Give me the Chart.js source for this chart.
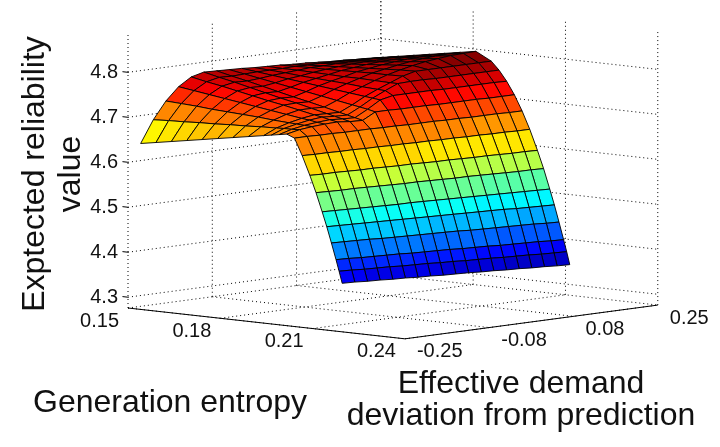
<!DOCTYPE html>
<html>
<head>
<meta charset="utf-8">
<script src="https://cdn.jsdelivr.net/npm/chart.js@4.4.1/dist/chart.umd.min.js"></script>
<style>
  html, body { margin: 0; padding: 0; background: #fff; }
</style>
</head>
<body>
<canvas id="surfaceChart" width="720" height="447"></canvas>
<script>
// grid of the surface
const entropy = [0.150, 0.155, 0.160, 0.165, 0.170, 0.175, 0.180, 0.185, 0.190, 0.1925, 0.195,
                 0.1975, 0.200, 0.2025, 0.205, 0.207, 0.209, 0.2105, 0.212, 0.2135, 0.2145, 0.2155];
const demand = [-0.225, -0.200, -0.175, -0.150, -0.125, -0.100, -0.075, -0.050, -0.025, 0.000,
                0.025, 0.050, 0.075, 0.100, 0.125, 0.150, 0.175, 0.200, 0.225];

// expected reliability, one row per entropy value, one column per demand value
const reliability = [
  [4.638, 4.687, 4.725, 4.753, 4.771, 4.778, 4.777, 4.776, 4.775, 4.773, 4.772, 4.771, 4.769, 4.768, 4.766, 4.764, 4.763, 4.761, 4.760],
  [4.644, 4.689, 4.723, 4.748, 4.764, 4.770, 4.769, 4.770, 4.771, 4.771, 4.771, 4.772, 4.771, 4.771, 4.770, 4.769, 4.768, 4.767, 4.766],
  [4.650, 4.690, 4.721, 4.743, 4.758, 4.763, 4.762, 4.764, 4.767, 4.769, 4.771, 4.773, 4.773, 4.774, 4.774, 4.774, 4.774, 4.773, 4.772],
  [4.656, 4.692, 4.718, 4.738, 4.751, 4.755, 4.754, 4.758, 4.763, 4.766, 4.770, 4.773, 4.775, 4.777, 4.778, 4.778, 4.779, 4.778, 4.778],
  [4.662, 4.693, 4.716, 4.733, 4.744, 4.747, 4.746, 4.752, 4.759, 4.764, 4.769, 4.774, 4.777, 4.780, 4.782, 4.783, 4.784, 4.784, 4.784],
  [4.668, 4.695, 4.714, 4.728, 4.737, 4.739, 4.738, 4.746, 4.755, 4.762, 4.768, 4.775, 4.779, 4.783, 4.786, 4.788, 4.789, 4.790, 4.790],
  [4.674, 4.696, 4.712, 4.723, 4.731, 4.732, 4.731, 4.740, 4.751, 4.760, 4.768, 4.776, 4.781, 4.786, 4.790, 4.793, 4.795, 4.796, 4.796],
  [4.680, 4.698, 4.709, 4.718, 4.724, 4.724, 4.723, 4.734, 4.747, 4.757, 4.767, 4.776, 4.783, 4.789, 4.794, 4.797, 4.800, 4.801, 4.802],
  [4.686, 4.699, 4.707, 4.713, 4.717, 4.716, 4.715, 4.728, 4.743, 4.755, 4.766, 4.777, 4.784, 4.784, 4.784, 4.784, 4.784, 4.784, 4.784],
  [4.689, 4.700, 4.706, 4.711, 4.714, 4.712, 4.711, 4.725, 4.741, 4.754, 4.766, 4.767, 4.767, 4.766, 4.766, 4.766, 4.766, 4.766, 4.766],
  [4.692, 4.700, 4.705, 4.708, 4.710, 4.708, 4.707, 4.722, 4.739, 4.745, 4.745, 4.745, 4.745, 4.744, 4.744, 4.744, 4.744, 4.744, 4.743],
  [4.695, 4.701, 4.704, 4.706, 4.707, 4.704, 4.703, 4.718, 4.718, 4.717, 4.717, 4.717, 4.716, 4.716, 4.716, 4.716, 4.715, 4.715, 4.715],
  [4.688, 4.688, 4.687, 4.687, 4.686, 4.686, 4.686, 4.685, 4.685, 4.684, 4.684, 4.684, 4.683, 4.683, 4.682, 4.682, 4.682, 4.681, 4.681],
  [4.651, 4.650, 4.650, 4.649, 4.649, 4.648, 4.648, 4.647, 4.647, 4.646, 4.646, 4.645, 4.645, 4.644, 4.644, 4.643, 4.643, 4.642, 4.642],
  [4.609, 4.608, 4.608, 4.607, 4.606, 4.606, 4.605, 4.604, 4.604, 4.603, 4.602, 4.602, 4.601, 4.600, 4.600, 4.599, 4.598, 4.598, 4.597],
  [4.572, 4.571, 4.570, 4.570, 4.569, 4.568, 4.567, 4.566, 4.566, 4.565, 4.564, 4.563, 4.563, 4.562, 4.561, 4.560, 4.559, 4.559, 4.558],
  [4.531, 4.530, 4.529, 4.528, 4.527, 4.526, 4.525, 4.525, 4.524, 4.523, 4.522, 4.521, 4.520, 4.519, 4.518, 4.517, 4.516, 4.515, 4.514],
  [4.499, 4.498, 4.497, 4.496, 4.495, 4.494, 4.493, 4.492, 4.491, 4.490, 4.489, 4.488, 4.487, 4.486, 4.485, 4.483, 4.482, 4.481, 4.480],
  [4.464, 4.463, 4.462, 4.461, 4.459, 4.458, 4.457, 4.456, 4.455, 4.454, 4.453, 4.451, 4.450, 4.449, 4.448, 4.447, 4.446, 4.444, 4.443],
  [4.428, 4.427, 4.425, 4.424, 4.423, 4.422, 4.420, 4.419, 4.418, 4.417, 4.415, 4.414, 4.413, 4.411, 4.410, 4.409, 4.408, 4.406, 4.405],
  [4.403, 4.402, 4.400, 4.399, 4.398, 4.396, 4.395, 4.394, 4.392, 4.391, 4.389, 4.388, 4.387, 4.385, 4.384, 4.383, 4.381, 4.380, 4.379],
  [4.377, 4.376, 4.374, 4.373, 4.371, 4.370, 4.368, 4.367, 4.365, 4.364, 4.363, 4.361, 4.360, 4.358, 4.357, 4.355, 4.354, 4.352, 4.351]
];

// ticks
const entropyTicks = [0.15, 0.18, 0.21, 0.24];
const entropyTickLabels = ['0.15', '0.18', '0.21', '0.24'];
const demandTicks = [-0.25, -0.0833, 0.0833, 0.25];
const demandTickLabels = ['-0.25', '-0.08', '0.08', '0.25'];
const reliabilityTicks = [4.3, 4.4, 4.5, 4.6, 4.7, 4.8];
const reliabilityTickLabels = ['4.3', '4.4', '4.5', '4.6', '4.7', '4.8'];

// axis limits
const E_MIN = 0.15, E_MAX = 0.24;
const D_MIN = -0.25, D_MAX = 0.25;
const Z_MIN = 4.276, Z_MAX = 4.883;

// view of the box
const AZ = 42.4 * Math.PI / 180;
const EL = 7 * Math.PI / 180;
const Z_ASPECT = 0.7335;
const CANVAS_W = 720, CANVAS_H = 447;
const BOX_LEFT_PX = 128, BOX_BASE_PX = 308, BOX_SCALE_PX = 375;

const FONT = '"Liberation Sans", Arial, Helvetica, sans-serif';
const INK = '#111';

function boxCoords(e, d, z) {
    return [(e - E_MIN) / (E_MAX - E_MIN), (d - D_MIN) / (D_MAX - D_MIN), (z - Z_MIN) / (Z_MAX - Z_MIN)];
}

// orthographic projection into the chart's x/y units
function project(e, d, z) {
    const [u, v, w] = boxCoords(e, d, z);
    return {
        x: u * Math.cos(AZ) + v * Math.sin(AZ),
        y: (v * Math.cos(AZ) - u * Math.sin(AZ)) * Math.sin(EL) + w * Z_ASPECT * Math.cos(EL)
    };
}

// larger = closer to the viewer
function depth(e, d) {
    const [u, v] = boxCoords(e, d, Z_MIN);
    return u * Math.sin(AZ) - v * Math.cos(AZ);
}

// matlab style jet, 64 colours
function jet(z, cmin, cmax) {
    let idx = Math.floor((z - cmin) / (cmax - cmin) * 64);
    idx = Math.max(0, Math.min(63, idx));
    const t = (idx + 0.5) / 64;
    const ch = c => Math.round(255 * Math.max(0, Math.min(1, 1.5 - Math.abs(4 * t - c))));
    return 'rgb(' + ch(3) + ',' + ch(2) + ',' + ch(1) + ')';
}

const allZ = reliability.flat();
const cMin = Math.min(...allZ), cMax = Math.max(...allZ);

const cells = [];
for (let i = 0; i < entropy.length - 1; i++) {
    for (let j = 0; j < demand.length - 1; j++) {
        const corners = [[i, j], [i + 1, j], [i + 1, j + 1], [i, j + 1], [i, j]];
        cells.push({
            points: corners.map(([a, b]) => project(entropy[a], demand[b], reliability[a][b])),
            depth: depth((entropy[i] + entropy[i + 1]) / 2, (demand[j] + demand[j + 1]) / 2),
            color: jet(reliability[i][j], cMin, cMax)
        });
    }
}
// nearest cell gets the lowest order, so it is painted last
cells.sort((a, b) => b.depth - a.depth);

const datasets = cells.map((c, k) => ({
    data: c.points,
    order: k,
    backgroundColor: c.color,
    borderColor: '#000',
    borderWidth: 0.9,
    pointRadius: 0,
    tension: 0,
    fill: false
}));

function toPixel(chart, p) {
    return [chart.scales.x.getPixelForValue(p.x), chart.scales.y.getPixelForValue(p.y)];
}

function segment(chart, a, b) {
    const p = toPixel(chart, project(...a));
    const q = toPixel(chart, project(...b));
    chart.ctx.beginPath();
    chart.ctx.moveTo(p[0], p[1]);
    chart.ctx.lineTo(q[0], q[1]);
    chart.ctx.stroke();
}

// fill every cell just before its outline is drawn
const cellFill = {
    id: 'cellFill',
    beforeDatasetDraw(chart, args) {
        const pts = args.meta.data;
        const ctx = chart.ctx;
        ctx.save();
        ctx.beginPath();
        pts.forEach((p, k) => k ? ctx.lineTo(p.x, p.y) : ctx.moveTo(p.x, p.y));
        ctx.closePath();
        ctx.fillStyle = chart.data.datasets[args.index].backgroundColor;
        ctx.fill();
        ctx.restore();
    }
};

// dotted grid on the two back walls and the floor
const boxGrid = {
    id: 'boxGrid',
    beforeDatasetsDraw(chart) {
        const ctx = chart.ctx;
        ctx.save();
        ctx.strokeStyle = '#000';
        ctx.lineWidth = 1;
        ctx.setLineDash([1, 3]);
        reliabilityTicks.forEach(z => {
            segment(chart, [E_MIN, D_MIN, z], [E_MIN, D_MAX, z]);
            segment(chart, [E_MIN, D_MAX, z], [E_MAX, D_MAX, z]);
        });
        demandTicks.forEach(d => {
            segment(chart, [E_MIN, d, Z_MIN], [E_MIN, d, Z_MAX]);
            segment(chart, [E_MIN, d, Z_MIN], [E_MAX, d, Z_MIN]);
        });
        entropyTicks.forEach(e => {
            segment(chart, [e, D_MAX, Z_MIN], [e, D_MAX, Z_MAX]);
            segment(chart, [e, D_MIN, Z_MIN], [e, D_MAX, Z_MIN]);
        });
        ctx.restore();
    }
};

// axis lines, ticks and all the text
const boxAxes = {
    id: 'boxAxes',
    afterDatasetsDraw(chart) {
        const ctx = chart.ctx;
        ctx.save();
        ctx.strokeStyle = '#000';
        ctx.lineWidth = 1;
        segment(chart, [E_MIN, D_MIN, Z_MIN], [E_MAX, D_MIN, Z_MIN]);
        segment(chart, [E_MAX, D_MIN, Z_MIN], [E_MAX, D_MAX, Z_MIN]);
        reliabilityTicks.forEach(z => {
            segment(chart, [E_MIN, D_MIN, z], [E_MIN - 0.0018, D_MIN, z]);
        });

        ctx.fillStyle = INK;
        ctx.font = '20px ' + FONT;
        ctx.textBaseline = 'middle';
        ctx.textAlign = 'right';
        entropyTicks.forEach((e, k) => {
            const [x, y] = toPixel(chart, project(e, D_MIN, Z_MIN));
            ctx.fillText(entropyTickLabels[k], x - 9, y + 13);
        });
        reliabilityTicks.forEach((z, k) => {
            const [x, y] = toPixel(chart, project(E_MIN, D_MIN, z));
            ctx.fillText(reliabilityTickLabels[k], x - 10, y);
        });
        ctx.textAlign = 'left';
        demandTicks.forEach((d, k) => {
            const [x, y] = toPixel(chart, project(E_MAX, d, Z_MIN));
            ctx.fillText(demandTickLabels[k], x + 12, y + 13);
        });

        ctx.font = '32px ' + FONT;
        ctx.textAlign = 'center';
        ctx.textBaseline = 'alphabetic';
        ctx.fillText('Generation entropy', 170, 412);
        ctx.fillText('Effective demand', 521, 393);
        ctx.fillText('deviation from prediction', 521, 425);
        ctx.save();
        ctx.translate(44, 174);
        ctx.rotate(-Math.PI / 2);
        ctx.fillText('Exptected reliability', 0, 0);
        ctx.restore();
        ctx.save();
        ctx.translate(80, 174);
        ctx.rotate(-Math.PI / 2);
        ctx.fillText('value', 0, 0);
        ctx.restore();
        ctx.restore();
    }
};

new Chart(document.getElementById('surfaceChart').getContext('2d'), {
    type: 'line',
    data: { datasets: datasets },
    options: {
        responsive: false,
        animation: false,
        events: [],
        layout: { padding: 0 },
        plugins: { legend: { display: false }, tooltip: { enabled: false } },
        scales: {
            x: {
                type: 'linear', display: false,
                min: -BOX_LEFT_PX / BOX_SCALE_PX,
                max: (CANVAS_W - BOX_LEFT_PX) / BOX_SCALE_PX
            },
            y: {
                type: 'linear', display: false,
                min: -(CANVAS_H - BOX_BASE_PX) / BOX_SCALE_PX,
                max: BOX_BASE_PX / BOX_SCALE_PX
            }
        }
    },
    plugins: [cellFill, boxGrid, boxAxes]
});
</script>
</body>
</html>
